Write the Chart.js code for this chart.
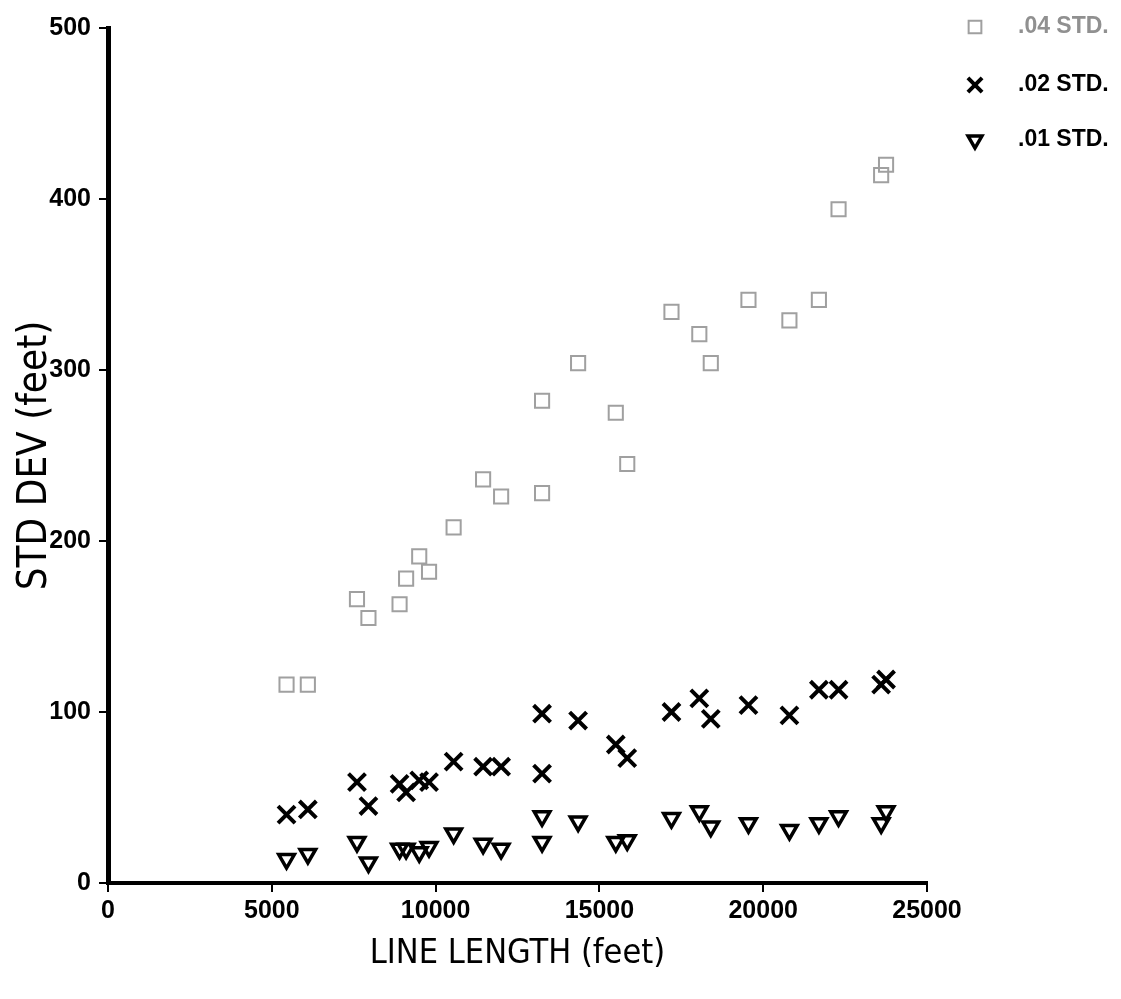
<!DOCTYPE html>
<html>
<head>
<meta charset="utf-8">
<script src="https://cdn.jsdelivr.net/npm/chart.js@4/dist/chart.umd.min.js"></script>
<style>
  html, body { margin: 0; padding: 0; background: #fff; }
  #wrap { width: 1121px; height: 999px; }
</style>
</head>
<body>
<div id="wrap"><canvas id="stdChart" width="1121" height="999"></canvas></div>
<script>
// Line lengths (feet) shared by all three series
const lineLength = [5450, 6100, 7600, 7950, 8900, 9100, 9500, 9800, 10550, 11450, 12000, 13250, 13250,
  14350, 15500, 15850, 17200, 18050, 18400, 19550, 20800, 21700, 22300, 23600, 23750];

// Standard deviation (feet)
const std04 = [116, 116, 166, 155, 163, 178, 191, 182, 208, 236, 226, 282, 228,
  304, 275, 245, 334, 321, 304, 341, 329, 341, 394, 414, 420];
const std02 = [40, 43, 59, 45, 58, 53, 60, 59, 71, 68, 68, 99, 64,
  95, 81, 73, 100, 108, 96, 104, 98, 113, 113, 116, 119];
const std01 = [14, 17, 24, 12, 20, 20, 18, 21, 29, 23, 20, 39, 24,
  36, 24, 25, 38, 42, 33, 35, 31, 35, 39, 35, 42];

const seriesLabels = ['.04 STD.', '.02 STD.', '.01 STD.'];
const xTicks = [0, 5000, 10000, 15000, 20000, 25000];
const yTicks = [0, 100, 200, 300, 400, 500];

const TICK_FONT = "'Liberation Sans', Arial, sans-serif";
const TITLE_FONT = "'DejaVu Sans Condensed', 'DejaVu Sans', sans-serif";

function toPoints(ys) {
  return lineLength.map((x, i) => ({ x: x, y: ys[i] }));
}

// legend drawn in the right margin, outside the plot box
const sideLegend = {
  id: 'sideLegend',
  afterDraw(chart) {
    const ctx = chart.ctx;
    const rows = [27, 85, 140];
    ctx.save();
    chart.data.datasets.forEach((ds, i) => {
      const y = rows[i];
      ctx.strokeStyle = ds.borderColor;
      ctx.lineWidth = ds.borderWidth;
      ctx.fillStyle = 'rgba(0,0,0,0)';
      Chart.helpers.drawPoint(ctx, {
        pointStyle: ds.pointStyle,
        rotation: ds.pointRotation || 0,
        radius: ds.legendRadius,
        borderWidth: ds.borderWidth
      }, 975, y);
      ctx.fillStyle = ds.legendText;
      ctx.font = 'bold 23px ' + TICK_FONT;
      ctx.textAlign = 'left';
      ctx.textBaseline = 'middle';
      ctx.fillText(ds.label, 1018, y);
    });
    ctx.restore();
  }
};

new Chart(document.getElementById('stdChart').getContext('2d'), {
  type: 'scatter',
  data: {
    datasets: [{
      label: seriesLabels[0],
      data: toPoints(std04),
      pointStyle: 'rect',
      pointRadius: 10,
      borderColor: '#a0a0a0',
      backgroundColor: 'rgba(0,0,0,0)',
      borderWidth: 2,
      legendRadius: 9,
      legendText: '#909090'
    }, {
      label: seriesLabels[1],
      data: toPoints(std02),
      pointStyle: 'crossRot',
      pointRadius: 12,
      borderColor: '#000',
      backgroundColor: 'rgba(0,0,0,0)',
      borderWidth: 4,
      legendRadius: 10,
      legendText: '#000'
    }, {
      label: seriesLabels[2],
      data: toPoints(std01),
      pointStyle: 'triangle',
      pointRotation: 180,
      pointRadius: 9,
      borderColor: '#000',
      backgroundColor: 'rgba(0,0,0,0)',
      borderWidth: 3.5,
      legendRadius: 8,
      legendText: '#000'
    }]
  },
  options: {
    responsive: false,
    animation: false,
    layout: {
      padding: { top: 28, right: 194, left: 0, bottom: 0 }
    },
    plugins: {
      legend: { display: false },
      tooltip: { enabled: false }
    },
    scales: {
      x: {
        type: 'linear',
        min: 0,
        max: 25000,
        afterFit: s => { s.height = 116; },
        afterBuildTicks: s => { s.ticks = xTicks.map(v => ({ value: v })); },
        grid: {
          drawOnChartArea: false,
          color: '#000',
          lineWidth: 2,
          tickLength: 9
        },
        border: { display: true, color: '#000', width: 4 },
        ticks: {
          color: '#000',
          padding: 4,
          maxRotation: 0,
          font: { family: TICK_FONT, size: 25, weight: 'bold' },
          callback: v => String(v)
        },
        title: {
          display: true,
          text: 'LINE LENGTH (feet)',
          color: '#000',
          padding: 24,
          font: { family: TITLE_FONT, size: 34 }
        }
      },
      y: {
        type: 'linear',
        min: 0,
        max: 500,
        afterFit: s => { s.width = 108; s.paddingTop = 0; s.paddingBottom = 0; },
        afterBuildTicks: s => { s.ticks = yTicks.map(v => ({ value: v })); },
        grid: {
          drawOnChartArea: false,
          color: '#000',
          lineWidth: 2,
          tickLength: 9
        },
        border: { display: true, color: '#000', width: 5 },
        ticks: {
          color: '#000',
          padding: 8,
          font: { family: TICK_FONT, size: 25, weight: 'bold' },
          callback: v => String(v)
        },
        title: {
          display: true,
          text: 'STD DEV (feet)',
          color: '#000',
          padding: 12,
          font: { family: TITLE_FONT, size: 40 }
        }
      }
    }
  },
  plugins: [sideLegend]
});
</script>
</body>
</html>
